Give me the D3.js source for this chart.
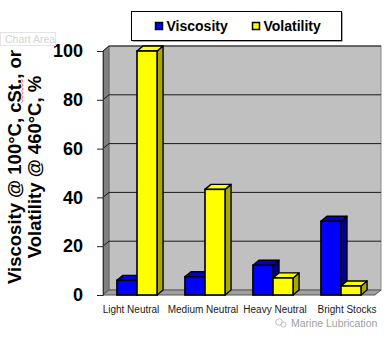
<!DOCTYPE html>
<html lang="en">
<head>
<meta charset="utf-8">
<title>Viscosity and volatility of base stocks</title>
<script src="https://cdnjs.cloudflare.com/ajax/libs/d3/7.8.5/d3.min.js"></script>
<style>
  body { margin: 0; background: #fff; }
  svg { display: block; font-family: "Liberation Sans", Arial, sans-serif; }
</style>
</head>
<body>
<div id="chart"></div>
<script>
// base stock grades and the two measured series
var categories = ["Light Neutral", "Medium Neutral", "Heavy Neutral", "Bright Stocks"];
var seriesNames = ["Viscosity", "Volatility"];
var viscosity = [6, 7.5, 12.2, 30.2];
var volatility = [100, 43.3, 7, 3.7];
var yTicks = [0, 20, 40, 60, 80, 100];

var width = 392, height = 339;

// front plane of the plot and the 3-D depth offset
var x0 = 103, x1 = 375, yBase = 295, yTop = 51;
var dx = 6, dy = -5;

var colors = {
  Viscosity:  { front: "#0000ff", top: "#0000d8", side: "#000090" },
  Volatility: { front: "#ffff00", top: "#ffff00", side: "#a8a800" }
};

var svg = d3.select("#chart").append("svg")
  .attr("width", width)
  .attr("height", height);

var x = d3.scaleBand()
  .domain(categories)
  .range([x0, x1])
  .paddingInner(0.41)
  .paddingOuter(0.205);

var xs = d3.scaleBand()
  .domain(seriesNames)
  .range([0, x.bandwidth()]);

var y = d3.scaleLinear()
  .domain([0, 100])
  .range([yBase, yTop]);

// labels sit on their own, slightly wider spread
var xLabel = d3.scalePoint()
  .domain(categories)
  .range([131, 347]);

// ---- walls and floor ----
var walls = svg.append("g").attr("class", "walls");

// back wall
walls.append("rect")
  .attr("x", x0 + dx)
  .attr("y", y(100) + dy)
  .attr("width", x1 - x0)
  .attr("height", y(0) - y(100))
  .attr("fill", "#c0c0c0")
  .attr("stroke", "#8a8a8a")
  .attr("stroke-width", 1);

// left side wall
walls.append("polygon")
  .attr("points", [
    [x0, y(100)], [x0 + dx, y(100) + dy],
    [x0 + dx, y(0) + dy], [x0, y(0)]
  ].join(" "))
  .attr("fill", "#808080")
  .attr("stroke", "#666")
  .attr("stroke-width", 1);

// floor
walls.append("polygon")
  .attr("points", [
    [x0, y(0)], [x0 + dx, y(0) + dy],
    [x1 + dx, y(0) + dy], [x1, y(0)]
  ].join(" "))
  .attr("fill", "#a0a0a0")
  .attr("stroke", "#555")
  .attr("stroke-width", 1);

// gridlines on the back wall with their slanted run across the side wall
var grid = svg.append("g").attr("class", "grid");
yTicks.filter(function(d) { return d > 0; }).forEach(function(d) {
  grid.append("path")
    .attr("d", "M" + x0 + "," + y(d) + "L" + (x0 + dx) + "," + (y(d) + dy) +
               "L" + (x1 + dx) + "," + (y(d) + dy))
    .attr("fill", "none")
    .attr("stroke", "#1a1a1a")
    .attr("stroke-width", 1);
});

// ---- y axis ----
var yAxis = svg.append("g")
  .attr("transform", "translate(" + x0 + ",0)")
  .call(d3.axisLeft(y).tickValues(yTicks).tickSize(6).tickPadding(14));

yAxis.select(".domain").attr("stroke", "#333");
yAxis.selectAll(".tick line").attr("stroke", "#222");
yAxis.selectAll(".tick text")
  .attr("fill", "#000")
  .attr("font-size", "18px")
  .attr("font-weight", "bold")
  .attr("font-family", "'Liberation Sans', Arial, sans-serif");

// ---- 3-D columns ----
var rows = [];
categories.forEach(function(c, i) {
  rows.push({ cat: c, series: "Viscosity", value: viscosity[i] });
  rows.push({ cat: c, series: "Volatility", value: volatility[i] });
});

var bars = svg.append("g").attr("class", "bars")
  .selectAll("g")
  .data(rows)
  .join("g");

bars.each(function(d) {
  var g = d3.select(this);
  var left = x(d.cat) + xs(d.series);
  var right = left + xs.bandwidth();
  var top = y(d.value), bottom = y(0);
  var c = colors[d.series];

  // right side face
  g.append("polygon")
    .attr("points", [[right, top], [right + dx, top + dy], [right + dx, bottom + dy], [right, bottom]].join(" "))
    .attr("fill", c.side)
    .attr("stroke", "#000")
    .attr("stroke-width", 1.4)
    .attr("stroke-linejoin", "round");

  // top face
  g.append("polygon")
    .attr("points", [[left, top], [left + dx, top + dy], [right + dx, top + dy], [right, top]].join(" "))
    .attr("fill", c.top)
    .attr("stroke", "#000")
    .attr("stroke-width", 1.4)
    .attr("stroke-linejoin", "round");

  // front face
  g.append("rect")
    .attr("x", left)
    .attr("y", top)
    .attr("width", right - left)
    .attr("height", bottom - top)
    .attr("fill", c.front)
    .attr("stroke", "#000")
    .attr("stroke-width", 1.6);
});

// ---- category labels ----
svg.append("g").attr("class", "cat-labels")
  .selectAll("text")
  .data(categories)
  .join("text")
  .attr("x", function(d) { return xLabel(d); })
  .attr("y", 313)
  .attr("text-anchor", "middle")
  .attr("font-size", "10px")
  .attr("fill", "#1a1a1a")
  .text(function(d) { return d; });

// ---- y axis title, two rotated lines ----
var title = svg.append("g").attr("class", "y-title")
  .attr("font-size", "18.5px")
  .attr("font-weight", "bold")
  .attr("fill", "#000")
  .attr("text-anchor", "middle");

title.append("text")
  .attr("transform", "translate(21,167) rotate(-90)")
  .text("Viscosity @ 100°C, cSt., or");

title.append("text")
  .attr("transform", "translate(41,167) rotate(-90)")
  .text("Volatility @ 460°C, %");

// spell-check squiggle under "cSt."
var squig = d3.path();
squig.moveTo(21.5, 79);
for (var k = 0; k < 12; k++) {
  squig.lineTo(k % 2 ? 21.5 : 23, 81 + k * 2);
}
svg.append("path")
  .attr("d", squig.toString())
  .attr("fill", "none")
  .attr("stroke", "#ff5050")
  .attr("stroke-width", 0.8);

// ---- legend ----
var legend = svg.append("g").attr("class", "legend");

legend.append("rect")
  .attr("x", 132.5).attr("y", 12.5)
  .attr("width", 210).attr("height", 29)
  .attr("fill", "#555");
legend.append("rect")
  .attr("x", 131.5).attr("y", 11.5)
  .attr("width", 210).attr("height", 29)
  .attr("fill", "#fff")
  .attr("stroke", "#000");

var legendX = d3.scaleOrdinal().domain(seriesNames).range([155.5, 252.5]);

var item = legend.selectAll("g.item")
  .data(seriesNames)
  .join("g")
  .attr("class", "item")
  .attr("transform", function(d) { return "translate(" + legendX(d) + ",22.5)"; });

item.append("rect")
  .attr("width", 7).attr("height", 7)
  .attr("fill", function(d) { return colors[d].front; })
  .attr("stroke", "#000")
  .attr("stroke-width", 1.5);

item.append("text")
  .attr("x", 11)
  .attr("y", 8.5)
  .attr("font-size", "14px")
  .attr("font-weight", "bold")
  .attr("fill", "#000")
  .text(function(d) { return d; });

// ---- faint "Chart Area" hover tag ----
svg.append("rect")
  .attr("x", 0.5).attr("y", 32.5)
  .attr("width", 55).attr("height", 13)
  .attr("fill", "#fff")
  .attr("stroke", "#e4e4e4");
svg.append("text")
  .attr("x", 5).attr("y", 43)
  .attr("font-size", "10.5px")
  .attr("fill", "#d4d4d4")
  .text("Chart Area");

// ---- source mark ----
var mark = svg.append("g").attr("fill", "none").attr("stroke", "#b8b8b8").attr("stroke-width", 0.9);
mark.append("circle").attr("cx", 279).attr("cy", 322).attr("r", 3.3);
mark.append("circle").attr("cx", 283.5).attr("cy", 324.5).attr("r", 2.6);
svg.append("text")
  .attr("x", 291).attr("y", 327)
  .attr("font-size", "10.5px")
  .attr("fill", "#a0a0a0")
  .text("Marine Lubrication");
</script>
</body>
</html>
